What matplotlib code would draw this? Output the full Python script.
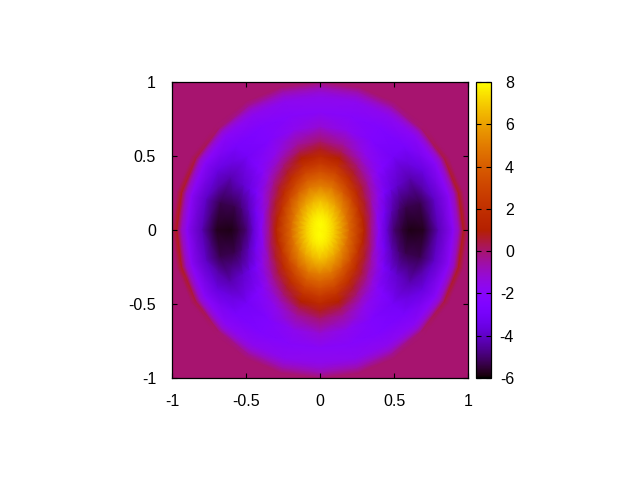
import numpy as np
import matplotlib
matplotlib.use("Agg")
import matplotlib.pyplot as plt
from matplotlib.colors import LinearSegmentedColormap, Normalize

plt.rcParams['font.family'] = ['Liberation Sans', 'DejaVu Sans']

# Values: one row per polar angle (first quadrant,
# the picture is mirror-symmetric), one column per radius.
radii = [0, .05, .1, .2, .3, .35, .4, .45, .5, .55, .6, .7, .8, .9, .94, .97, 1.0]
angles_deg = [0, 15, 30, 45, 60, 75, 90]
values = [
    [8.0, 7.7, 6.9, 4.2, 1.2, -0.4, -2.1, -3.8, -5.0, -5.5, -5.8, -5.7, -4.2, -1.9, -0.8, 0.8, 0.0],
    [8.0, 7.7, 7.0, 4.4, 1.3, 0.0, -1.7, -3.1, -4.2, -4.9, -5.3, -5.3, -4.0, -1.9, -0.8, 0.7, 0.0],
    [8.0, 7.75, 7.1, 4.8, 2.0, 0.6, -0.6, -1.6, -2.8, -3.5, -3.9, -4.3, -3.6, -2.0, -1.0, 0.4, 0.0],
    [8.0, 7.8, 7.3, 5.4, 3.0, 1.7, 0.5, -0.4, -1.3, -2.1, -2.5, -3.0, -2.8, -1.9, -1.1, 0.0, 0.0],
    [8.0, 7.85, 7.5, 6.0, 3.9, 2.9, 1.8, 0.6, -0.1, -0.9, -1.6, -2.4, -2.4, -1.7, -1.1, -0.4, 0.0],
    [8.0, 7.9, 7.6, 6.4, 4.8, 3.9, 3.0, 2.0, 1.0, 0.2, -0.5, -1.7, -2.1, -1.7, -1.1, -0.6, 0.0],
    [8.0, 7.9, 7.7, 6.7, 5.0, 4.2, 3.4, 2.5, 1.6, 0.7, 0.0, -1.2, -2.0, -1.6, -1.1, -0.6, 0.0],
]
outside_value = 0.0
value_min, value_max = -6, 8
axis_ticks = [-1, -0.5, 0, 0.5, 1]
axis_labels = ['-1', '-0.5', '0', '0.5', '1']
bar_ticks = [-6, -4, -2, 0, 2, 4, 6, 8]
bar_labels = ['-6', '-4', '-2', '0', '2', '4', '6', '8']

# gnuplot default palette (rgbformulae 7,5,15)
t = np.linspace(0, 1, 512)
rgb = np.clip(np.c_[np.sqrt(t), t**3, np.sin(2*np.pi*t)], 0, 1)
cmap = LinearSegmentedColormap.from_list('pm3d', rgb, N=512)
norm = Normalize(value_min, value_max)

W, H = 640, 480
fig = plt.figure(figsize=(6.4, 4.8), dpi=100)
ax = fig.add_axes([172/W, 1-378/H, 296/W, 296/H])
cax = fig.add_axes([476/W, 1-378/H, 15/W, 296/H])

table = np.array(values)
ang = np.radians(angles_deg)
# mirror the quadrant into the whole disc
full_ang = np.r_[ang, np.pi-ang[-2::-1], np.pi+ang[1:], 2*np.pi-ang[-2::-1]]
full_val = np.vstack([table, table[-2::-1], table[1:], table[-2::-1]])
R, A = np.meshgrid(radii, full_ang)
ax.set_facecolor(cmap(norm(outside_value)))
ax.pcolormesh(R*np.cos(A), R*np.sin(A), full_val, cmap=cmap, norm=norm,
              shading='gouraud', zorder=1)
ax.set_xlim(-1, 1)
ax.set_ylim(-1, 1)
ax.set_xticks(axis_ticks, axis_labels)
ax.set_yticks(axis_ticks, axis_labels)
ax.tick_params(direction='in', top=True, right=True, length=3.8, width=0.8,
               labelsize=11.5, pad=11.5)
for s in ax.spines.values():
    s.set_linewidth(0.9)
    s.set_zorder(5)

sm = plt.cm.ScalarMappable(norm=norm, cmap=cmap)
cb = fig.colorbar(sm, cax=cax)
cb.set_ticks(bar_ticks, labels=bar_labels)
cb.ax.tick_params(direction='in', left=True, right=True, length=3.8, width=0.8,
                  labelsize=11.5, pad=16.6)
for lab in cb.ax.get_yticklabels():
    lab.set_ha('right')
cb.outline.set_linewidth(0.9)
fig.savefig('out.png', dpi=100)
